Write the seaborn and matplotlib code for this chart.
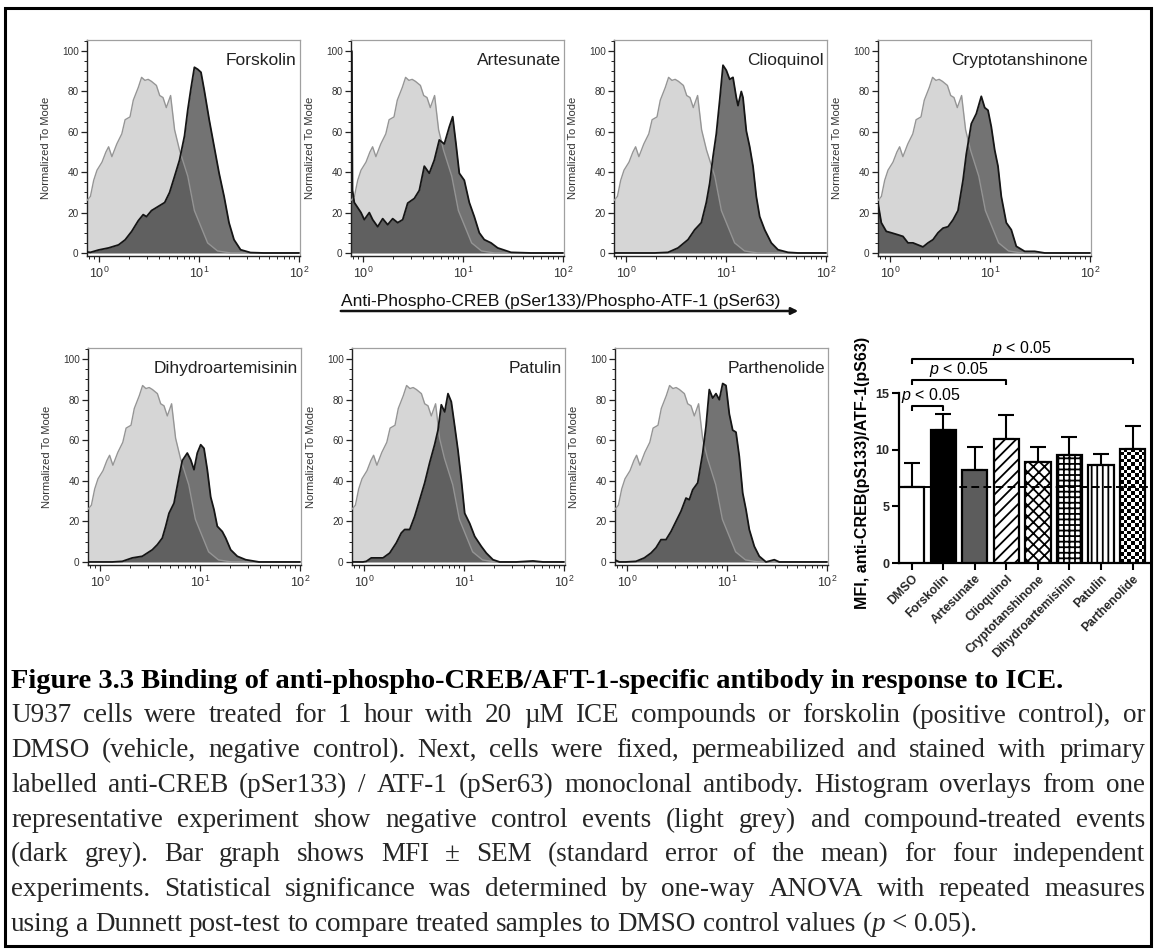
import numpy as np
import pandas as pd
import matplotlib
matplotlib.use("Agg")
import matplotlib.pyplot as plt
import seaborn as sns
from matplotlib.ticker import LogLocator, MultipleLocator, NullFormatter, FixedLocator
from matplotlib.patches import Rectangle, FancyArrowPatch

# ---------------- data ----------------
# control (DMSO) histogram, log10 intensity vs normalized to mode
ctrl_lx = [-0.12, -0.086, -0.053, -0.02, 0.03, 0.069, 0.096, 0.129, 0.178, 0.228, 0.261, 0.31, 0.343,
           0.393, 0.426, 0.459, 0.492, 0.525, 0.574, 0.607, 0.64, 0.673, 0.716, 0.756, 0.805, 0.888,
           0.954, 1.02, 1.086, 1.185, 1.317, 2.0]
ctrl_y = [26, 28, 36, 41, 45, 50, 52.6, 47.7, 54, 59, 66, 67.4, 75.7, 82, 87, 85.5, 86, 85, 83, 78, 77,
          72, 78, 61, 51, 38, 21, 13, 5, 1, 0, 0]

forskolin_lx = [-0.12, -0.086, -0.003, 0.096, 0.195, 0.261, 0.327, 0.393, 0.442, 0.475, 0.525, 0.591, 0.657,
                0.706, 0.756, 0.805, 0.855, 0.888, 0.921, 0.954, 0.987, 1.02, 1.053, 1.102, 1.152, 1.201,
                1.251, 1.3, 1.35, 1.416, 1.515, 1.647, 2.0]
forskolin_y = [0.5, 0.3, 1.5, 2.5, 4, 6.5, 10.7, 16, 19, 18, 21, 23, 25, 30, 38, 46, 58, 71, 82, 92, 91,
               89.5, 80.5, 66, 52.6, 39.5, 28, 15, 6.6, 1.6, 0.2, 0, 0]

artesunate_lx = [-0.12, -0.112, -0.105, -0.087, -0.02, 0.013, 0.063, 0.097, 0.147, 0.197, 0.247, 0.297, 0.347,
                 0.397, 0.447, 0.513, 0.563, 0.613, 0.663, 0.713, 0.763, 0.813, 0.863, 0.897, 0.93, 0.963,
                 1.013, 1.063, 1.113, 1.163, 1.213, 1.28, 1.347, 1.48, 1.68, 2.0]
artesunate_y = [100, 100, 31, 25, 20, 16.5, 20, 16.5, 13, 17, 14, 17, 15, 16.5, 24.7, 27, 31, 43, 39.5, 46,
                56, 54, 62.5, 67.5, 54, 39.5, 36, 25, 18, 10, 6.6, 5, 2.5, 0.3, 0, 0]

clioquinol_lx = [-0.12, 0.287, 0.42, 0.52, 0.62, 0.687, 0.753, 0.803, 0.837, 0.87, 0.903, 0.937, 0.97, 1.003,
                 1.037, 1.07, 1.103, 1.12, 1.153, 1.17, 1.203, 1.237, 1.27, 1.303, 1.337, 1.387, 1.453, 1.52,
                 1.62, 1.72, 2.0]
clioquinol_y = [0, 0, 0.3, 2.5, 6.6, 11.5, 15, 25, 34.5, 47.7, 59, 75.7, 93, 90.5, 86, 87, 77, 73, 80, 77,
                60.5, 52.6, 43, 28, 18, 11.5, 5, 1.6, 0.3, 0, 0]

cryptotanshinone_lx = [-0.12, -0.087, -0.037, 0.013, 0.08, 0.13, 0.18, 0.23, 0.28, 0.33, 0.38, 0.43, 0.48,
                       0.53, 0.58, 0.63, 0.68, 0.73, 0.763, 0.813, 0.863, 0.913, 0.947, 0.98, 1.013, 1.047,
                       1.08, 1.113, 1.163, 1.213, 1.263, 1.347, 1.447, 1.547, 2.0]
cryptotanshinone_y = [24.7, 15, 10.7, 10, 9, 8.2, 5, 5, 4, 3, 5, 6.6, 10, 12.3, 13, 16.4, 21, 36, 49, 64,
                      69, 77.6, 72, 70.7, 62.5, 51, 43, 28, 15, 11.5, 3.3, 0.8, 0.8, 0, 0]

dihydroartemisinin_lx = [-0.12, 0.123, 0.223, 0.323, 0.423, 0.473, 0.523, 0.573, 0.623, 0.657, 0.69, 0.74,
                         0.79, 0.823, 0.873, 0.907, 0.94, 0.973, 1.007, 1.04, 1.073, 1.107, 1.14, 1.173,
                         1.223, 1.257, 1.307, 1.373, 1.457, 1.59, 2.0]
dihydroartemisinin_y = [0, 0, 0.3, 2, 2.8, 4.4, 6, 8.5, 11.8, 17.6, 24, 29, 42, 50, 53.7, 50.4, 45.5, 53.7,
                        57.8, 56, 45.5, 32, 25.8, 17.6, 15, 11.8, 6, 2.8, 1.1, 0, 0]

patulin_lx = [-0.12, -0.01, 0.023, 0.073, 0.19, 0.257, 0.323, 0.373, 0.407, 0.457, 0.507, 0.557, 0.607, 0.657,
              0.707, 0.74, 0.773, 0.807, 0.84, 0.873, 0.907, 0.94, 0.973, 1.007, 1.057, 1.107, 1.173, 1.223,
              1.29, 1.357, 1.523, 1.69, 1.79, 2.0]
patulin_y = [0, 0, 0.3, 2, 2, 4.4, 9.4, 14.3, 16, 16, 22.5, 30.7, 39, 49, 58, 65, 77.5, 74, 83, 79, 67, 55,
             40.6, 24, 19, 12.6, 7.7, 4.4, 1.1, 0, 0, 0.5, 0, 0]

parthenolide_lx = [-0.12, -0.077, -0.01, 0.09, 0.173, 0.24, 0.29, 0.34, 0.39, 0.44, 0.49, 0.54, 0.59, 0.623,
                   0.657, 0.707, 0.757, 0.79, 0.823, 0.857, 0.89, 0.923, 0.957, 0.99, 1.023, 1.057, 1.09,
                   1.123, 1.157, 1.19, 1.223, 1.273, 1.323, 1.39, 1.473, 1.523, 1.723, 2.0]
parthenolide_y = [1, 0, 0, 0.3, 2, 4.4, 7, 11, 11, 15, 20, 25, 31.5, 30.7, 35.6, 39, 53.7, 66.8, 85, 80.8,
                  83, 80, 88, 87, 73, 65, 64, 52, 34, 25.8, 16, 7.7, 2.8, 0, 1.1, 0, 0, 0]

panel_titles = ["Forskolin", "Artesunate", "Clioquinol", "Cryptotanshinone",
                "Dihydroartemisinin", "Patulin", "Parthenolide"]
panel_data = [(forskolin_lx, forskolin_y), (artesunate_lx, artesunate_y), (clioquinol_lx, clioquinol_y),
              (cryptotanshinone_lx, cryptotanshinone_y), (dihydroartemisinin_lx, dihydroartemisinin_y),
              (patulin_lx, patulin_y), (parthenolide_lx, parthenolide_y)]

# bar graph
bar_names = ["DMSO", "Forskolin", "Artesunate", "Clioquinol", "Cryptotanshinone",
             "Dihydroartemisinin", "Patulin", "Parthenolide"]
bar_mean = [6.7, 11.76, 8.24, 10.94, 8.91, 9.5, 8.65, 10.09]
bar_sem = [2.12, 1.42, 2.0, 2.12, 1.33, 1.59, 1.0, 1.97]
dmso_ref = 6.7
sig_pairs = [(0, 1), (0, 3), (0, 7)]
sig_heights = [13.88, 16.18, 18.0]
sig_label = "< 0.05"

caption_title = "Figure 3.3 Binding of anti-phospho-CREB/AFT-1-specific antibody in response to ICE."
caption_lines = [
    "U937 cells were treated for 1 hour with 20 \u00b5M ICE compounds or forskolin (positive control), or",
    "DMSO (vehicle, negative control). Next, cells were fixed, permeabilized and stained with primary",
    "labelled anti-CREB (pSer133) / ATF-1 (pSer63) monoclonal antibody. Histogram overlays from one",
    "representative experiment show negative control events (light grey) and compound-treated events",
    "(dark grey). Bar graph shows MFI \u00b1 SEM (standard error of the mean) for four independent",
    "experiments. Statistical significance was determined by one-way ANOVA with repeated measures",
    "using a Dunnett post-test to compare treated samples to DMSO control values (p < 0.05).",
]
axis_caption = "Anti-Phospho-CREB (pSer133)/Phospho-ATF-1 (pSer63)"

# ---------------- style ----------------
sns.set_theme(style="ticks")
plt.rcParams["font.family"] = ["Liberation Sans", "DejaVu Sans"]
plt.rcParams["mathtext.fontset"] = "custom"
plt.rcParams["mathtext.rm"] = "Liberation Sans"
plt.rcParams["mathtext.it"] = "Liberation Sans:italic"
plt.rcParams["mathtext.bf"] = "Liberation Sans:bold"
plt.rcParams["hatch.linewidth"] = 1.3

W, H = 1155, 951
fig = plt.figure(figsize=(W / 100, H / 100), dpi=100)


def rect(left, top, width, bottom):
    return [left / W, 1 - bottom / H, width / W, (bottom - top) / H]


hist_pos = [(87, 40, 256), (351, 40, 256), (614, 40, 256), (878, 40, 256),
            (88, 348, 565), (352, 348, 565), (615, 348, 565)]

for (left, top, bottom), title, (lx, ly) in zip(hist_pos, panel_titles, panel_data):
    ax = fig.add_axes(rect(left, top, 213, bottom))
    cx = 10 ** np.array(ctrl_lx)
    dx = 10 ** np.array(lx)
    ax.fill_between(cx, ctrl_y, 0, color="#d6d6d6", lw=0, zorder=1)
    ax.fill_between(dx, ly, 0, color="black", alpha=0.55, lw=0, zorder=2)
    sns.lineplot(x=cx, y=ctrl_y, ax=ax, color="#959595", lw=1.0, sort=False, estimator=None, zorder=3)
    sns.lineplot(x=dx, y=ly, ax=ax, color="#151515", lw=1.3, sort=False, estimator=None, zorder=4)
    ax.set_xscale("log")
    ax.set_xlim(10 ** -0.12, 10 ** 2.01)
    ax.set_ylim(-1.5, 105.5)
    ax.xaxis.set_major_locator(LogLocator(base=10, numticks=5))
    ax.xaxis.set_minor_locator(LogLocator(base=10, subs=np.arange(2, 10), numticks=20))
    ax.xaxis.set_minor_formatter(NullFormatter())
    ax.yaxis.set_major_locator(FixedLocator([0, 20, 40, 60, 80, 100]))
    ax.yaxis.set_minor_locator(MultipleLocator(5))
    for s in ["left", "bottom"]:
        ax.spines[s].set_color("#222222")
        ax.spines[s].set_linewidth(1.0)
    for s in ["top", "right"]:
        ax.spines[s].set_visible(True)
        ax.spines[s].set_color("#a0a0a0")
        ax.spines[s].set_linewidth(0.9)
    ax.tick_params(which="major", length=4, width=0.9, color="#222222", labelsize=7.2,
                   labelcolor="#333333", pad=2)
    ax.tick_params(axis="x", which="major", labelsize=9, pad=3)
    ax.tick_params(which="minor", length=2, width=0.7, color="#222222")
    ax.set_xlabel("")
    ax.set_ylabel("Normalized To Mode", fontsize=8, color="#333333")
    ax.yaxis.set_label_coords(-0.17, 0.5)
    ax.text(0.985, 0.905, title, transform=ax.transAxes, ha="right", va="center",
            fontsize=12.5, color="#222222")

# ---------------- axis caption with arrow ----------------
fig.text(341 / W, 1 - 306 / H, axis_caption, fontsize=12.5, ha="left", va="baseline", color="#111111")
fig.add_artist(FancyArrowPatch((338 / W, 1 - 311 / H), (801 / W, 1 - 311 / H),
                               transform=fig.transFigure, arrowstyle="-|>",
                               mutation_scale=10, lw=1.8, color="#111111"))

# ---------------- bar graph ----------------
bax = fig.add_axes([899 / W, 1 - 563 / H, 251 / W, (20.5 * 11.33) / H])
df = pd.DataFrame({"name": bar_names, "mean": bar_mean})
face = ["white", "black", "#5c5c5c", "white", "white", "white", "white", "white"]
hatches = [None, None, None, "///", "xxx", "+++", "|||", None]
sns.barplot(data=df, x="name", y="mean", hue="name", palette=face, legend=False, ax=bax,
            width=0.8, edgecolor="black", linewidth=1.6, errorbar=None, saturation=1, zorder=3)
patches = [c.patches[0] for c in bax.containers]
for p, h in zip(patches, hatches):
    if h:
        p.set_hatch(h)
# checkerboard texture for Parthenolide, clipped to its bar
pp = patches[7]
x0, w0, h0 = pp.get_x(), pp.get_width(), pp.get_height()
ncol, nrow = 7, 32
board = (np.add.outer(np.arange(nrow), np.arange(ncol)) % 2).astype(float)
im = bax.imshow(board, extent=[x0, x0 + w0, 0, h0], cmap="gray", interpolation="nearest",
                aspect="auto", zorder=2.9, origin="lower")
im.set_clip_path(pp)
pp.set_facecolor("none")

xs = np.arange(len(bar_names))
bax.errorbar(xs, bar_mean, yerr=[np.zeros(len(bar_sem)), bar_sem], fmt="none", ecolor="black",
             elinewidth=1.5, capsize=5.5, capthick=1.5, zorder=2)
bax.axhline(dmso_ref, color="black", ls=(0, (4, 2.2)), lw=1.4, zorder=5)

for (a, b), hy in zip(sig_pairs, sig_heights):
    drop = 0.45
    bax.plot([a, a, b, b], [hy - drop, hy, hy, hy - drop], color="black", lw=1.5, zorder=5,
             solid_capstyle="butt", clip_on=False)
    bax.text((a + b) / 2 if b > 1 else 0.62, hy + 0.9, r"$p$ " + sig_label, ha="center", va="center",
             fontsize=11.5, color="black")

bax.set_xlim(-0.4, 7.55)
bax.set_ylim(0, 20.5)
bax.set_yticks([0, 5, 10, 15])
bax.spines["left"].set_bounds(0, 15)
sns.despine(ax=bax)
for s in ["left", "bottom"]:
    bax.spines[s].set_linewidth(1.6)
    bax.spines[s].set_color("black")
bax.tick_params(axis="both", length=5, width=1.5, color="black", labelsize=9, pad=2)
for lab in bax.get_yticklabels():
    lab.set_fontweight("bold")
bax.set_xticks(xs)
bax.set_xticklabels(bar_names, rotation=45, ha="right", rotation_mode="anchor", fontweight="bold",
                    fontsize=8.8)
bax.set_xlabel("")
bax.set_ylabel("MFI, anti-CREB(pS133)/ATF-1(pS63)", fontsize=11.5, fontweight="bold", color="black")
bax.yaxis.set_label_coords(-0.115, 15 / 2 / 20.5 + 0.02)

# ---------------- caption ----------------
cap_x0, cap_x1 = 11, 1145
title_y = 681
line_y0, line_dy = 716, 34.7
cap_font = ["Liberation Serif", "DejaVu Serif"]
cap_fs = 19.5
fig.text(cap_x0 / W, 1 - title_y / H, caption_title, fontsize=20.5, fontweight="bold",
         family=cap_font, ha="left", va="center", color="black")

fig.canvas.draw()
renderer = fig.canvas.get_renderer()


def measure(s, **kw):
    t = fig.text(0, 0, s, fontsize=cap_fs, family=cap_font, **kw)
    w = t.get_window_extent(renderer).width
    t.remove()
    return w


space_w = measure("a a") - measure("aa")
for i, line in enumerate(caption_lines):
    y = 1 - (line_y0 + i * line_dy) / H
    words = line.split(" ")
    groups = []
    for wd in words:
        if wd == "(p":
            segs = [("(", "normal"), ("p", "italic")]
        else:
            segs = [(wd, "normal")]
        arts = []
        for s, st in segs:
            arts.append(fig.text(0, y, s, fontsize=cap_fs, family=cap_font, style=st, va="center"))
        groups.append(arts)
    gw = [[a.get_window_extent(renderer).width for a in g] for g in groups]
    total = sum(sum(g) for g in gw)
    last = i == len(caption_lines) - 1
    gap = space_w if last else (cap_x1 - cap_x0 - total) / (len(words) - 1)
    x = cap_x0
    for g, ws in zip(groups, gw):
        for a, wdt in zip(g, ws):
            a.set_x(x / W)
            x += wdt
        x += gap

# outer border
fig.add_artist(Rectangle((5 / W, 1 - 946 / H), (1151 - 5) / W, (946 - 8) / H, transform=fig.transFigure,
                         fill=False, lw=2.2, edgecolor="black"))

fig.savefig("out.png", dpi=100)
